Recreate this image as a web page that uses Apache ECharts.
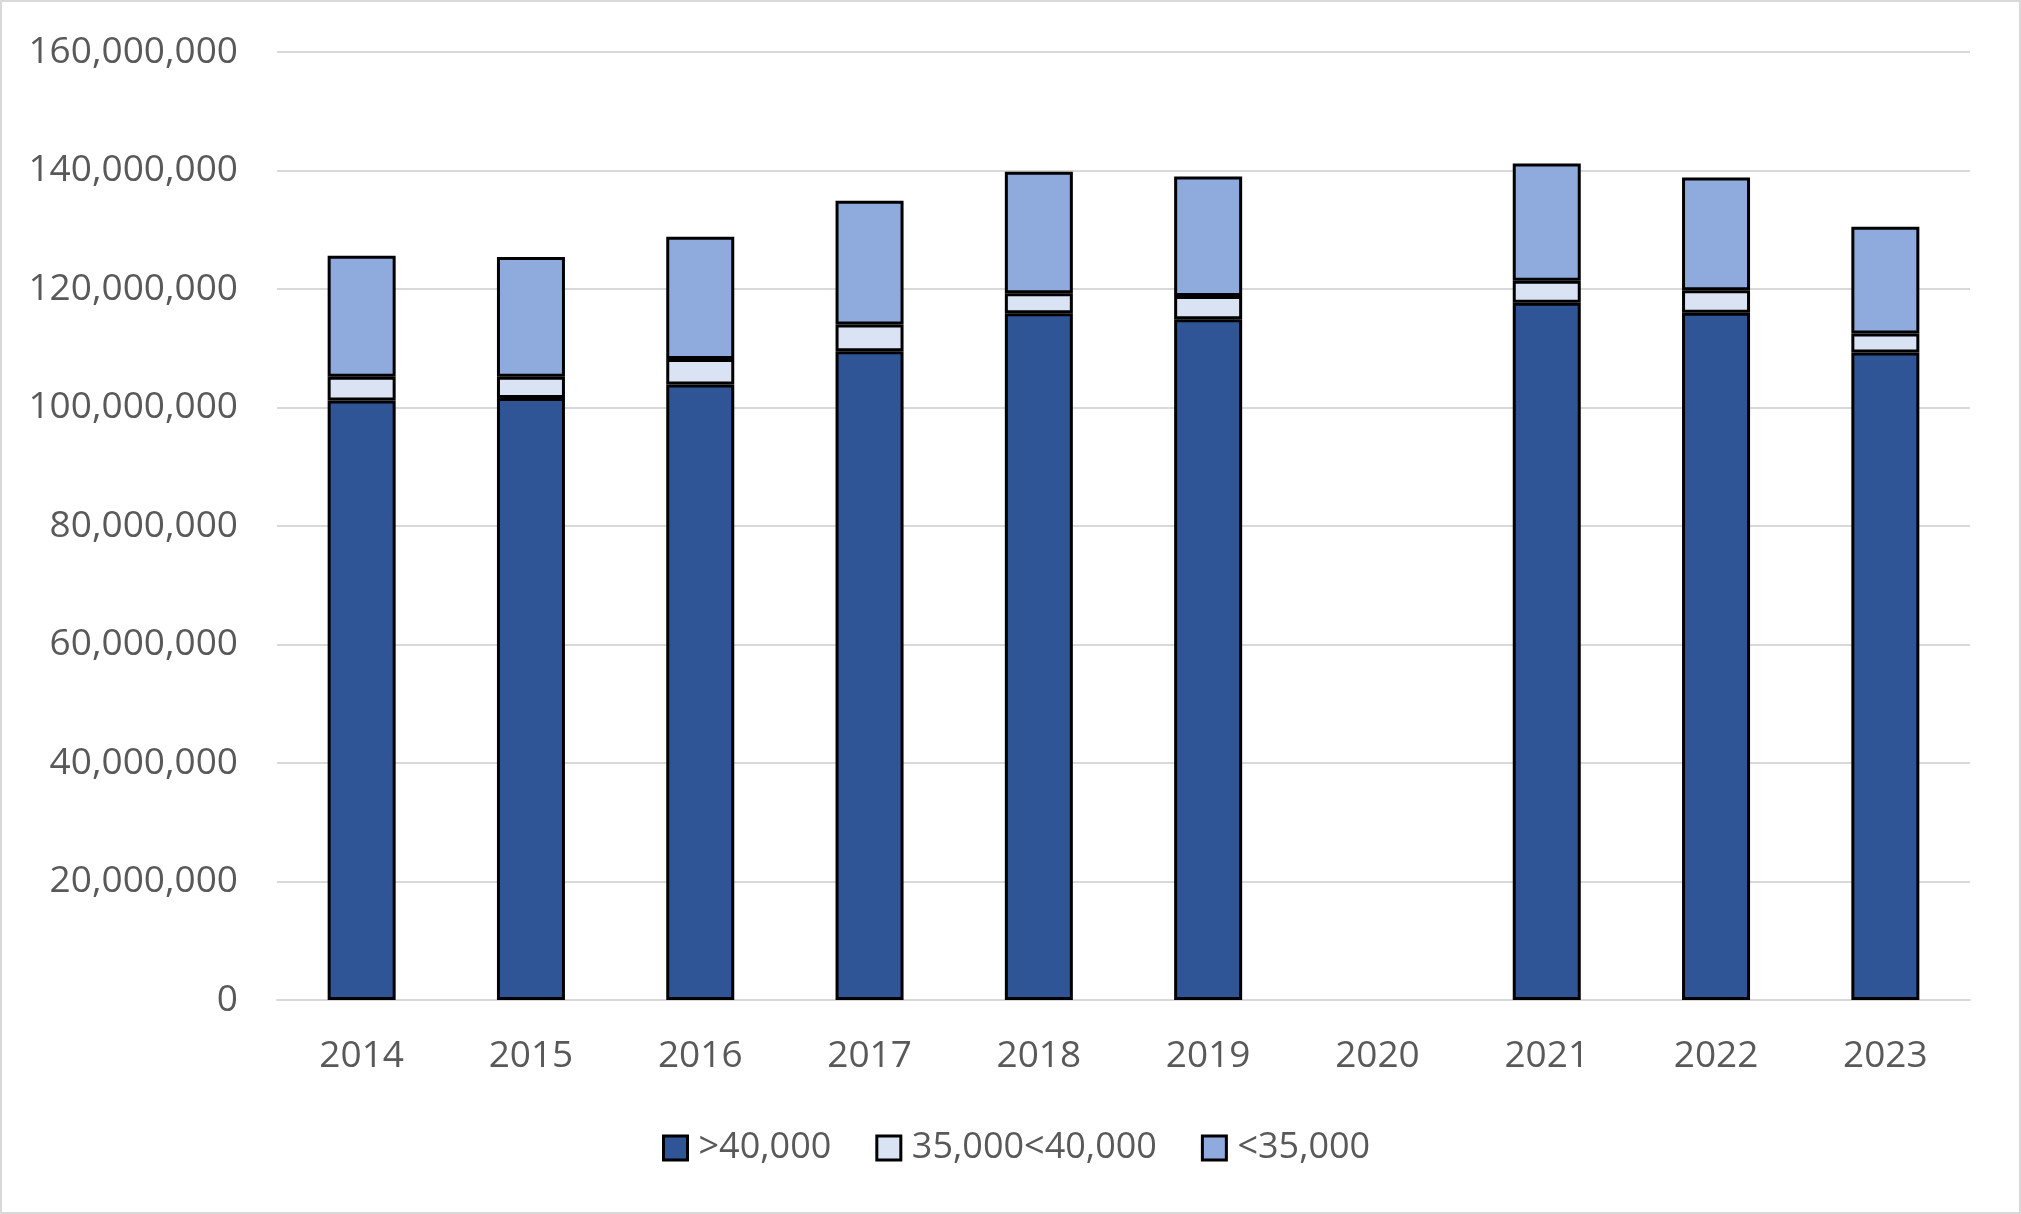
<!DOCTYPE html>
<html>
<head>
<meta charset="utf-8">
<script src="https://cdn.jsdelivr.net/npm/echarts@6/dist/echarts.min.js"></script>
<style>
html,body{margin:0;padding:0;background:#fff;}
#c{width:2021px;height:1214px;}
</style>
</head>
<body>
<div id="c"></div>
<script>
const years = ['2014','2015','2016','2017','2018','2019','2020','2021','2022','2023'];
const over40k = [101200000, 101600000, 103900000, 109500000, 115900000, 114900000, null, 117700000, 116000000, 109300000];
const mid35to40k = [4000000, 3600000, 4300000, 4500000, 3400000, 3900000, null, 3700000, 3800000, 3200000];
const under35k = [20400000, 20200000, 20600000, 20900000, 20500000, 20200000, null, 19800000, 19000000, 18000000];
const seriesNames = ['>40,000', '35,000<40,000', '<35,000'];
const yTicks = [0, 20000000, 40000000, 60000000, 80000000, 100000000, 120000000, 140000000, 160000000];

const colors = ['#2F5597', '#DAE3F3', '#8FAADC'];
const font = 'Open Sans';
const chart = echarts.init(document.getElementById('c'), null, {renderer: 'canvas'});
const mk = (name, data, color) => ({
  name: name,
  type: 'bar',
  stack: 'total',
  data: data.map(v => v === null ? '-' : v),
  barWidth: 68,
  itemStyle: {color: color, borderColor: '#000', borderWidth: 3},
  emphasis: {disabled: true}
});
chart.setOption({
  animation: false,
  backgroundColor: '#fff',
  graphic: [{
    type: 'rect',
    shape: {x: 1, y: 1, width: 2019, height: 1212},
    style: {fill: 'none', stroke: '#D9D9D9', lineWidth: 2},
    silent: true
  }],
  grid: {left: 277, right: 51, top: 52, bottom: 214, containLabel: false},
  legend: {
    bottom: 43,
    left: 657,
    itemWidth: 24,
    itemHeight: 24,
    itemGap: 44,
    icon: 'rect',
    data: seriesNames.map((n, i) => ({name: n, itemStyle: {borderColor: '#000', borderWidth: 3}})),
    textStyle: {fontFamily: font, fontSize: 36, color: '#595959', padding: [0, 0, 0, 6]}
  },
  xAxis: {
    type: 'category',
    data: years,
    axisLine: {show: true, lineStyle: {color: '#D9D9D9', width: 2}},
    axisTick: {show: false},
    axisLabel: {fontFamily: font, fontSize: 37, color: '#595959', margin: 38}
  },
  yAxis: {
    type: 'value',
    min: yTicks[0],
    max: yTicks[yTicks.length - 1],
    interval: yTicks[1] - yTicks[0],
    axisLine: {show: false},
    axisTick: {show: false},
    splitLine: {lineStyle: {color: '#D9D9D9', width: 2}},
    axisLabel: {
      fontFamily: font, fontSize: 37, color: '#595959', margin: 39,
      formatter: v => v.toLocaleString('en-US')
    }
  },
  series: [
    mk(seriesNames[0], over40k, colors[0]),
    mk(seriesNames[1], mid35to40k, colors[1]),
    mk(seriesNames[2], under35k, colors[2])
  ]
});
</script>
</body>
</html>
